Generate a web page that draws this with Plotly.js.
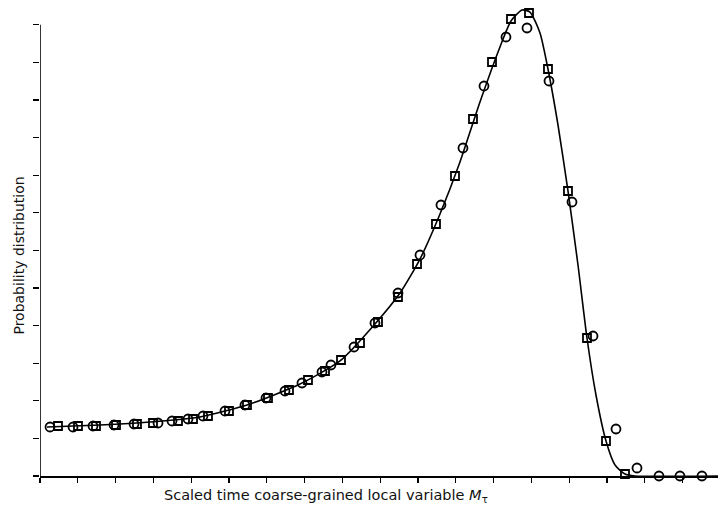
<!DOCTYPE html>
<html>
<head>
<meta charset="utf-8">
<script src="https://cdn.plot.ly/plotly-3.0.1.min.js"></script>
<style>html,body{margin:0;padding:0;background:#fff;}#chart{width:718px;height:516px;}</style>
</head>
<body>
<div id="chart"></div>
<script>
// Circles (data set 1)
const circleX = [0.265,0.873,1.402,1.958,2.487,3.122,3.492,3.915,4.312,4.894,5.423,5.979,6.481,6.931,7.460,7.698,8.307,8.862,9.471,10.053,10.608,11.190,11.746,12.328,12.884,13.466,14.074,14.630,15.238,15.794,16.376,16.931,17.513];
const circleY = [1.303,1.303,1.330,1.356,1.383,1.410,1.463,1.516,1.596,1.729,1.888,2.074,2.261,2.473,2.766,2.952,3.431,4.069,4.867,5.878,7.207,8.723,10.372,11.676,11.915,10.505,7.287,3.723,1.250,0.213,0,0,0];
// Squares (data set 2)
const squareX = [0.476,1.005,1.481,2.011,2.566,2.989,3.651,4.048,4.444,5.000,5.476,6.032,6.587,7.090,7.540,7.963,8.466,8.942,9.471,9.974,10.476,10.979,11.455,11.958,12.460,12.937,13.439,13.968,14.471,14.974,15.476];
const squareY = [1.330,1.330,1.330,1.356,1.383,1.410,1.463,1.516,1.596,1.729,1.888,2.074,2.287,2.553,2.793,3.085,3.537,4.096,4.761,5.638,6.702,7.979,9.495,11.011,12.154,12.314,10.824,7.580,3.670,0.931,0.053];
// Theoretical curve
const curveX = [0.185,1.587,2.910,4.233,5.556,6.878,7.937,8.862,9.524,10.053,10.582,11.111,11.640,12.169,12.460,12.751,12.963,13.228,13.439,13.704,13.968,14.233,14.471,14.709,14.974,15.212,15.476,15.741,17.937];
const curveY = [1.303,1.356,1.436,1.569,1.915,2.447,3.059,4.043,4.867,5.771,6.968,8.351,9.947,11.410,12.101,12.394,12.340,11.782,10.824,9.335,7.580,5.612,3.670,2.154,0.931,0.293,0.053,0,0];

const yAxisTop = 12;
const xTitle = 'Scaled time coarse-grained local variable <i>M</i><sub>τ</sub>';
const yTitle = 'Probability distribution';

const traces = [
  {x: curveX, y: curveY, mode: 'lines', type: 'scatter',
   line: {color: '#000', width: 1.6, shape: 'spline', smoothing: 0.6}, cliponaxis: false, hoverinfo: 'skip'},
  {x: circleX, y: circleY, mode: 'markers', type: 'scatter',
   marker: {symbol: 'circle-open', size: 9, color: '#000', line: {width: 1.8, color: '#000'}}, cliponaxis: false},
  {x: squareX, y: squareY, mode: 'markers', type: 'scatter',
   marker: {symbol: 'square-open', size: 8, color: '#000', line: {width: 1.8, color: '#000'}}, cliponaxis: false}
];

const layout = {
  width: 718, height: 516,
  margin: {l: 40, r: 0, t: 6, b: 40, pad: 0},
  paper_bgcolor: '#fff', plot_bgcolor: '#fff',
  showlegend: false,
  font: {family: 'DejaVu Sans, sans-serif', color: '#111', size: 14},
  xaxis: {range: [0, 17.937], dtick: 1, tick0: 0, showticklabels: false, ticks: 'outside', ticklen: 5, tickwidth: 1.2,
          tickcolor: '#000', showline: true, linecolor: '#000', linewidth: 1.6, showgrid: false, zeroline: false},
  yaxis: {range: [0, 12.5], dtick: 1, tick0: 0, showticklabels: false, ticks: 'outside', ticklen: 6, tickwidth: 1.2,
          tickcolor: '#000', showline: false, showgrid: false, zeroline: false},
  shapes: [
    {type: 'line', xref: 'x', yref: 'y', x0: 0, x1: 0, y0: 0, y1: yAxisTop, line: {color: '#000', width: 1.6}}
  ],
  annotations: [
    {text: xTitle, xref: 'paper', yref: 'paper', x: 0.422, y: -0.042, xanchor: 'center', yanchor: 'middle',
     showarrow: false, font: {family: 'DejaVu Sans, sans-serif', size: 14.5, color: '#111'}},
    {text: yTitle, xref: 'paper', yref: 'paper', x: -0.031, y: 0.469, xanchor: 'center', yanchor: 'middle', textangle: -90,
     showarrow: false, font: {family: 'DejaVu Sans, sans-serif', size: 14, color: '#111'}}
  ]
};

Plotly.newPlot('chart', traces, layout, {displayModeBar: false, staticPlot: true});
</script>
</body>
</html>
